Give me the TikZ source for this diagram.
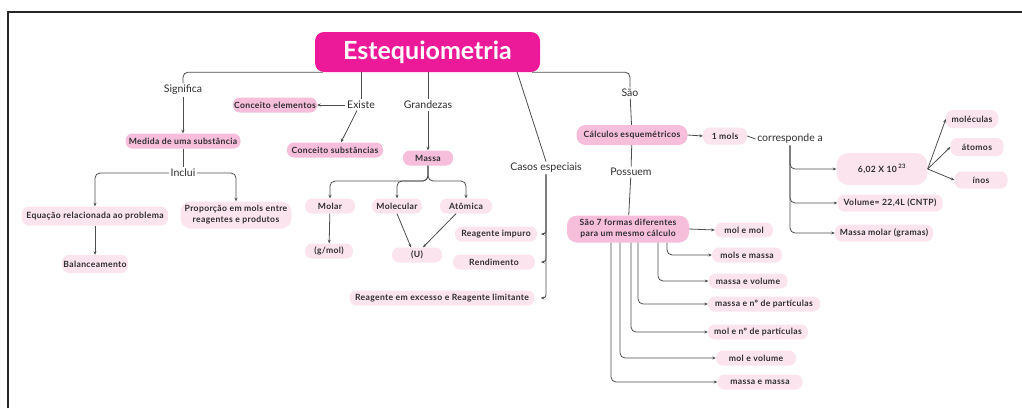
\documentclass[tikz,border=0pt]{standalone}
\usepackage{fontspec}
\setmainfont{Lato}
\newfontfamily\boxfont{Lato}[LetterSpace=4]
\usetikzlibrary{arrows.meta}
\definecolor{titlemagenta}{HTML}{EC1A98}
\definecolor{pinkdeep}{HTML}{F7BEDC}
\definecolor{pinklight}{HTML}{FCE4EF}
\definecolor{ink}{HTML}{2E2E2E}
\definecolor{wire}{HTML}{4D4D4D}

\begin{document}
\begin{tikzpicture}[x=1pt,y=-1pt,
  conn/.style={draw=wire, line width=0.8pt, rounded corners=5pt},
  arr/.style={-{Stealth[length=3.5pt,width=3pt]}},
  lbl/.style={font=\fontsize{10.5}{12}\selectfont, text=ink, inner sep=1.5pt},
  leaf/.style={fill=pinklight, rounded corners=7pt, font=\fontsize{8.6}{11}\boxfont\bfseries,
               text=ink, minimum height=15pt, inner sep=1pt, align=center},
  hub/.style={leaf, fill=pinkdeep},
]
\useasboundingbox (0,0) rectangle (1022,408);
\fill[white] (0,0) rectangle (1022,408);
\draw[black!85, line width=1.1pt] (8,408) -- (8,12) -- (1022,12);

% central topic
\node[fill=titlemagenta, rounded corners=9pt, minimum width=225pt, minimum height=40pt,
      text=white, font=\fontsize{25}{30}\selectfont\bfseries] (title) at (427.5,52) {Estequiometria};

% branch: Significa
\node[lbl] (signif) at (183,90) {Significa};
\node[hub, minimum width=115pt] (medida) at (183,141) {Medida de uma substância};
\node[lbl] (inclui) at (183,173) {Inclui};
\node[leaf, minimum width=146pt, minimum height=19pt] (equacao) at (95,216) {Equação relacionada ao problema};
\node[leaf, minimum width=66pt, minimum height=18pt] (balanc) at (95,264) {Balanceamento};
\node[leaf, minimum width=111pt, minimum height=27pt, rounded corners=10pt] (propor) at (236,215) {Proporção em mols entre\\reagentes e produtos};

% branch: Existe
\node[lbl] (existe) at (361,105) {Existe};
\node[hub, minimum width=84pt] (concElem) at (275,105) {Conceito elementos};
\node[hub, minimum width=96pt] (concSubs) at (335,150) {Conceito substâncias};

% branch: Grandezas
\node[lbl] (grandezas) at (428,105) {Grandezas};
\node[hub, minimum width=50pt] (massa) at (428,158) {Massa};
\node[leaf, minimum width=50pt] (molar) at (330,206) {Molar};
\node[leaf, minimum width=50pt] (molecular) at (397,206) {Molecular};
\node[leaf, minimum width=52pt] (atomica) at (466,206) {Atômica};
\node[leaf, minimum width=48pt] (gmol) at (329,251) {(g/mol)};
\node[leaf, minimum width=50pt] (unid) at (417,255) {(U)};

% branch: Casos especiais
\node[lbl] (casos) at (546,168) {Casos especiais};
\node[leaf, minimum width=82pt] (reagImp) at (496,234) {Reagente impuro};
\node[leaf, minimum width=82pt] (rend) at (494,262) {Rendimento};
\node[leaf, minimum width=185pt] (reagExc) at (442,298) {Reagente em excesso e Reagente limitante};

% branch: São
\node[lbl] (sao) at (630,93) {São};
\node[hub, minimum width=111pt, minimum height=20pt, rounded corners=9pt] (calc) at (632,135) {Cálculos esquemétricos};
\node[leaf, minimum width=44pt, minimum height=17pt] (umMol) at (725,136) {1 mols};
\node[lbl] (corresp) at (790,139) {corresponde a};
\node[leaf, minimum width=91pt, minimum height=32pt, rounded corners=12pt] (num) at (882,169) {6,02 X 10\,\textsuperscript{23}};
\node[leaf, minimum width=105pt, minimum height=17pt] (volume) at (890,203) {Volume= 22,4L (CNTP)};
\node[leaf, minimum width=98pt, minimum height=17pt] (massaMolar) at (884,233) {Massa molar (gramas)};
\node[leaf, minimum width=52pt, minimum height=18pt] (moleculas) at (972,119) {moléculas};
\node[leaf, minimum width=53pt, minimum height=18pt] (atomos) at (977,147) {átomos};
\node[leaf, minimum width=53pt, minimum height=17pt] (ions) at (981,180) {ínos};

\node[lbl] (possuem) at (631,172) {Possuem};
\node[hub, minimum width=122pt, minimum height=27pt, rounded corners=10pt] (sete) at (628,229) {São 7 formas diferentes\\para um mesmo cálculo};
\node[leaf, minimum width=58pt] (molmol) at (744,230) {mol e mol};
\node[leaf, minimum width=70pt] (molsmassa) at (747,255) {mols e massa};
\node[leaf, minimum width=79pt] (massavol) at (748,281) {massa e volume};
\node[leaf, minimum width=112pt] (massaNP) at (764,304) {massa e nº de partículas};
\node[leaf, minimum width=100pt] (molNP) at (758,332) {mol e nº de partículas};
\node[leaf, minimum width=80pt] (molvol) at (756,358) {mol e volume};
\node[leaf, minimum width=85pt] (massamassa) at (760,382) {massa e massa};

% connectors from the central topic
\draw[conn] ([xshift=8pt]title.south west) -| (signif.north);
\draw[conn] (title.south -| existe.north) -- (existe.north);
\draw[conn] (title.south -| grandezas.north) -- (grandezas.north);
\draw[conn] ([xshift=-23pt]title.south east) -- (casos.north);
\draw[conn] ([xshift=-8pt]title.south east) -| (sao.north);

% Significa
\draw[conn,arr] (signif) -- (medida);
\draw[conn] (medida) -- (inclui);
\draw[conn,arr] (inclui.west) -| (equacao.north);
\draw[conn,arr] (inclui.east) -| (propor.north);
\draw[conn,arr] (equacao) -- (balanc);

% Existe
\draw[conn,arr] (existe.west) -- (concElem.east);
\draw[conn,arr] ([xshift=-4pt]existe.south) -- ([xshift=6pt]concSubs.north);

% Grandezas
\draw[conn,arr] (grandezas) -- (massa);
\coordinate (mfork) at (428,181);
\draw[conn,arr] (massa.south) -- (mfork) -| (molar.north);
\draw[conn,arr] (massa.south) -- (mfork) -| (molecular.north);
\draw[conn,arr] (massa.south) -- (mfork) -| (atomica.north);
\draw[conn,arr] (molar) -- (gmol);
\draw[conn,arr] (molecular.south) -- ([xshift=-6pt]unid.north);
\draw[conn,arr] ([xshift=-10pt]atomica.south) -- ([xshift=6pt]unid.north);

% Casos especiais
\draw[conn,arr,rounded corners=3pt] (casos.south) |- ([xshift=4pt]reagImp.east);
\draw[conn,arr,rounded corners=3pt] (casos.south) |- ([xshift=6pt]rend.east);
\draw[conn,arr,rounded corners=3pt] (casos.south) |- ([xshift=6pt]reagExc.east);

% São
\draw[conn] (sao) -- (calc);
\draw[conn] (calc) -- (possuem);
\draw[conn] (possuem) -- (sete);
\draw[conn,arr] (calc.east) -- (umMol.west);
\draw[conn] (umMol.east) -- (corresp.west);
\draw[conn,arr] (corresp.south) |- (num.west);
\draw[conn,arr] (corresp.south) |- (volume.west);
\draw[conn,arr] (corresp.south) |- (massaMolar.west);
\draw[conn,arr] (num.east) -- (moleculas.west);
\draw[conn,arr] (num.east) -- (atomos.west);
\draw[conn,arr] (num.east) -- (ions.west);

% the seven ways
\draw[conn,arr] (sete.east) -- (molmol.west);
\draw[conn,arr] ([xshift=39pt]sete.south) |- (molsmassa.west);
\draw[conn,arr] ([xshift=30pt]sete.south) |- (massavol.west);
\draw[conn,arr] ([xshift=10pt]sete.south) |- (massaNP.west);
\draw[conn,arr] ([xshift=3pt]sete.south) |- (molNP.west);
\draw[conn,arr] ([xshift=-8pt]sete.south) |- (molvol.west);
\draw[conn,arr] ([xshift=-17pt]sete.south) |- (massamassa.west);
\end{tikzpicture}
\end{document}
